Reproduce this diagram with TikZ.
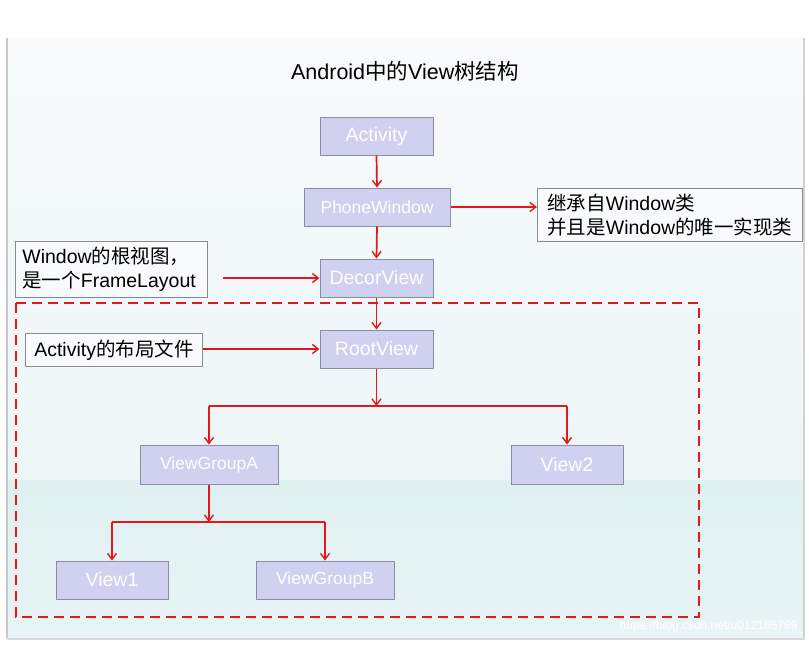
\documentclass[tikz,border=0pt]{standalone}
\usepackage{fontspec}
\setmainfont{Liberation Sans}
\newfontfamily\cjk{Noto Sans CJK SC}
\usetikzlibrary{arrows.meta,positioning}
\definecolor{boxfill}{HTML}{D0D0F0}
\definecolor{boxline}{HTML}{8C8CA2}
\definecolor{redline}{HTML}{E5161D}
\definecolor{bgtop}{HTML}{F8FAFB}
\definecolor{bgmid}{HTML}{EDF6F7}
\definecolor{bglow}{HTML}{DFF0F0}
\definecolor{bgbot}{HTML}{E8F4F5}
\definecolor{notebox}{HTML}{8A8A8A}
\begin{document}
\begin{tikzpicture}[x=1pt,y=-1pt,
  viewbox/.style={draw=boxline, line width=1pt, fill=boxfill, text=white, minimum height=38pt, inner sep=0pt, font=\fontsize{19.5}{22}\selectfont},
  smalltext/.style={font=\fontsize{17.5}{20}\selectfont},
  notenode/.style={draw=notebox, line width=0.8pt, fill=bgtop, text=black, align=left, inner ysep=2pt, font=\fontsize{19.5}{24}\selectfont},
  arr/.style={draw=redline, line width=1.7pt, -{Straight Barb[length=6pt,width=9pt,line width=1.4pt]}},
  redln/.style={draw=redline, line width=1.7pt}
]
\useasboundingbox (0,0) rectangle (809,648);
\fill[white] (0,0) rectangle (809,648);
% slide background
\shade[top color=bgtop, bottom color=bgmid] (7,38) rectangle (804,480);
\shade[top color=bglow, bottom color=bgbot] (7,480) rectangle (804,638);
\draw[gray!45, line width=1.2pt] (7,38) -- (7,638);
\draw[gray!35, line width=2.5pt] (804,38) -- (804,639);
\draw[gray!30, line width=2pt] (7,639) -- (805,639);
% title
\node (title) at (405,71) {\fontsize{21.5}{25}\selectfont Android{\cjk 中的}View{\cjk 树结构}};
% main boxes
\node[viewbox, minimum width=113pt] (act) at (376.5,136) {Activity};
\node[viewbox, smalltext, minimum width=146pt] (pw) at (377,207) {PhoneWindow};
\node[viewbox, minimum width=113pt] (dv) at (376.5,278) {DecorView};
\node[viewbox, minimum width=113pt] (rv) at (376.5,349) {RootView};
\node[viewbox, smalltext, minimum width=138pt, minimum height=39pt] (vga) at (209,464.5) {ViewGroupA};
\node[viewbox, minimum width=112pt, minimum height=39pt] (v2) at (567,464.5) {View2};
\node[viewbox, minimum width=112pt] (v1) at (112,580) {View1};
\node[viewbox, smalltext, minimum width=138pt] (vgb) at (325,580) {ViewGroupB};
% notes
\node[notenode, anchor=north west, inner xsep=10pt, text width=245pt, minimum height=53pt] (note1) at (537,188) {{\cjk 继承自}Window{\cjk 类}\\{\cjk 并且是}Window{\cjk 的唯一实现类}};
\node[notenode, anchor=north west, inner xsep=7pt, text width=178pt, minimum height=56pt] (note2) at (15,241) {Window{\cjk 的根视图，}\\{\cjk 是一个}FrameLayout};
\node[notenode, anchor=north west, inner xsep=8pt, minimum width=177pt, minimum height=33pt] (note3) at (25,333) {Activity{\cjk 的布局文件}};
% dashed region
\draw[redline, line width=2.8pt, dash pattern=on 10pt off 6pt] (16,303) rectangle (699,617);
% coordinates
\coordinate (n2s) at (223,278);
\coordinate (j1) at (376.5,406);
\coordinate (j1l) at (209,406);
\coordinate (j1r) at (567,406);
\coordinate (j2) at (209,522);
\coordinate (j2l) at (112,522);
\coordinate (j2r) at (325,522);
% connectors
\draw[arr] (act.south) -- (pw.north);
\draw[arr] (pw.south) -- (dv.north);
\draw[arr] (pw.east) -- (pw.east -| note1.west);
\draw[arr] (n2s) -- (dv.west);
\draw[arr] (note3.east |- rv.west) -- (rv.west);
\draw[arr] (dv.south) -- (rv.north);
\draw[arr] (rv.south) -- (j1);
\draw[redln] (j1l) -- (j1r);
\draw[arr] (j1l) -- (vga.north);
\draw[arr] (j1r) -- (v2.north);
\draw[arr] (vga.south) -- (j2);
\draw[redln] (j2l) -- (j2r);
\draw[arr] (j2l) -- (v1.north);
\draw[arr] (j2r) -- (vgb.north);
% watermark
\node[text=white, anchor=east, font=\fontsize{12}{14}\selectfont] (wm) at (801,626) {https://blog.csdn.net/u012165769};
\end{tikzpicture}
\end{document}
